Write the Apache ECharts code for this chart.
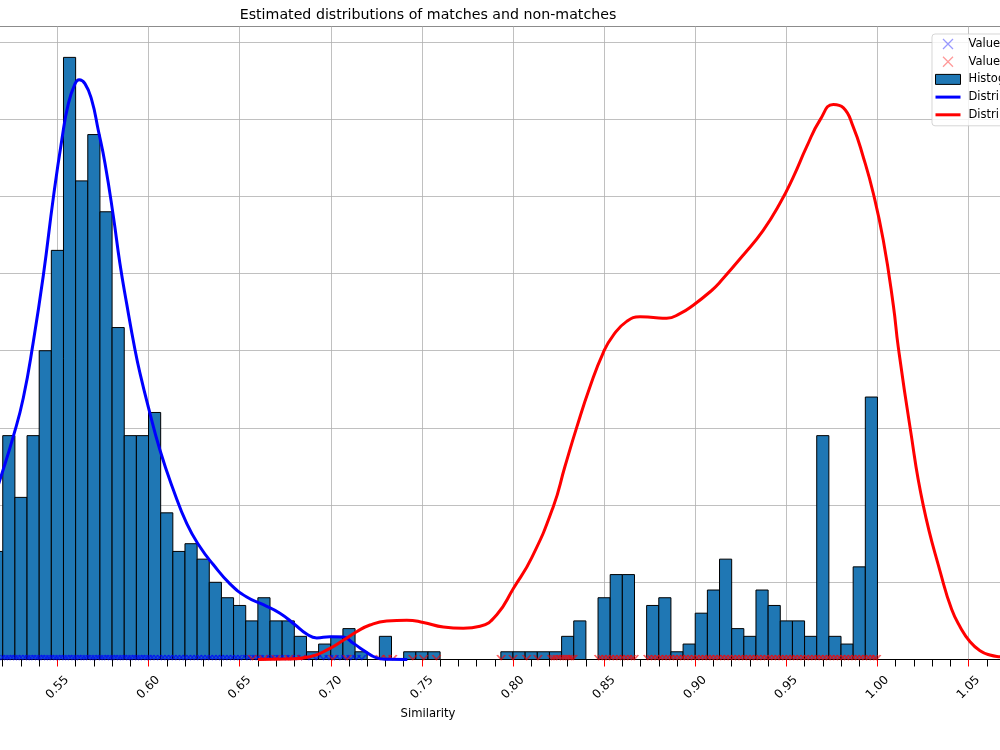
<!DOCTYPE html>
<html>
<head>
<meta charset="utf-8">
<script src="https://cdn.jsdelivr.net/npm/echarts@6/dist/echarts.min.js"></script>
<style>
html, body { margin: 0; padding: 0; width: 1000px; height: 750px; overflow: hidden; background: #fff; }
#main { position: absolute; left: -60px; top: 0; width: 1140px; height: 750px; }
</style>
</head>
<body>
<div id="main"></div>
<script>
// histogram: bins of width 1/150, first visible bin starts at 0.51333
var binStart = 0.5 + 2 / 150;
var binWidth = 1 / 150;
var binCounts = [14, 29, 21, 29, 40, 53, 78, 62, 68, 58, 43, 29, 29, 32, 19, 14, 15, 13, 10, 8,
	7, 5, 8, 5, 5, 3, 1, 2, 3, 4, 1, 0, 3, 0, 1, 1, 1, 0, 0, 0,
	0, 0, 1, 1, 1, 1, 1, 3, 5, 0, 8, 11, 11, 0, 7, 8, 1, 2, 6, 9,
	13, 4, 3, 9, 7, 5, 5, 3, 29, 3, 2, 12, 34];

// estimated distribution of non-matches (blue)
var kdeBlueX = [0.514, 0.5185, 0.5258, 0.5313, 0.5368, 0.5423, 0.5478, 0.5524, 0.556, 0.5597,
	0.5619, 0.5651, 0.5688, 0.5724, 0.5761, 0.5807, 0.5843, 0.588, 0.5926, 0.5953,
	0.5999, 0.6063, 0.6136, 0.621, 0.6282, 0.6355, 0.6447, 0.6539, 0.663, 0.6721,
	0.6804, 0.6868, 0.6923, 0.6996, 0.7069, 0.7124, 0.7179, 0.7252, 0.73, 0.742];
var kdeBlueY = [20, 23.3, 28.9, 33.9, 41.2, 49.8, 59.9, 67.3, 72.0, 74.6,
	75.1, 74.6, 72.5, 68.6, 64.3, 57.4, 51.3, 46.1, 40.1, 37.1,
	32.7, 27.1, 22.0, 17.6, 14.6, 12.3, 9.8, 8.1, 7.1, 6.0,
	4.5, 3.3, 2.8, 2.95, 2.9, 2.1, 1.2, 0.2, 0.02, 0];

// estimated distribution of matches (red)
var kdeRedX = [0.66, 0.6758, 0.6886, 0.6996, 0.7069, 0.7142, 0.7215, 0.7307, 0.7417, 0.7508,
	0.7618, 0.7727, 0.7819, 0.7911, 0.8002, 0.8103, 0.8221, 0.8285, 0.835, 0.8422,
	0.8496, 0.855, 0.8624, 0.8697, 0.877, 0.8843, 0.8916, 0.8989, 0.909, 0.9136,
	0.9264, 0.9373, 0.9465, 0.9538, 0.9611, 0.9685, 0.9758, 0.9812, 0.9867, 0.9922,
	0.9977, 1.0032, 1.0087, 1.0114, 1.0178, 1.0251, 1.0352, 1.0407, 1.0453, 1.0508,
	1.0563, 1.0617, 1.0672, 1.08];
var kdeRedY = [0, 0.05, 0.36, 1.45, 2.5, 3.6, 4.47, 5.0, 5.1, 4.8,
	4.2, 4.04, 4.3, 5.8, 9.2, 13.2, 19.8, 25.0, 30.1, 35.3,
	39.8, 42.0, 43.8, 44.4, 44.3, 44.2, 44.8, 45.9, 47.8, 48.9,
	52.4, 55.6, 59.1, 62.5, 66.4, 69.9, 71.9, 71.5, 69.0, 65.1,
	60.4, 54.3, 45.9, 40.5, 30.2, 20.0, 10.7, 6.5, 4.25, 2.3,
	1.14, 0.58, 0.36, 0.1];

// rug values (x markers at y = 0)
var valuesNonMatch = [0.519, 0.521, 0.5225, 0.524, 0.526, 0.5275, 0.529, 0.531, 0.533, 0.5345,
	0.536, 0.538, 0.5395, 0.541, 0.543, 0.5445, 0.546, 0.548, 0.5495, 0.551,
	0.553, 0.5545, 0.556, 0.558, 0.5595, 0.561, 0.563, 0.5645, 0.566, 0.568,
	0.5695, 0.571, 0.573, 0.5745, 0.576, 0.578, 0.5795, 0.581, 0.583, 0.5845,
	0.586, 0.588, 0.5895, 0.591, 0.593, 0.5945, 0.596, 0.598, 0.5995, 0.601,
	0.603, 0.605, 0.607, 0.609, 0.611, 0.613, 0.615, 0.617, 0.619, 0.621,
	0.623, 0.625, 0.627, 0.629, 0.631, 0.633, 0.635, 0.637, 0.639, 0.641,
	0.643, 0.645, 0.647, 0.649, 0.651, 0.654, 0.656, 0.659, 0.661, 0.664,
	0.667, 0.669, 0.672, 0.675, 0.678, 0.681, 0.684, 0.688, 0.692, 0.696,
	0.699, 0.702, 0.705, 0.708, 0.711, 0.714, 0.717];
var valuesMatch = [0.657, 0.663, 0.670, 0.677, 0.684, 0.701, 0.709, 0.727, 0.731, 0.734,
	0.745, 0.751, 0.758, 0.7935, 0.800, 0.8075, 0.8137, 0.8212, 0.8225, 0.824,
	0.826, 0.8275, 0.829, 0.8305, 0.832, 0.833, 0.847, 0.849, 0.851, 0.853,
	0.855, 0.857, 0.859, 0.861, 0.863, 0.865, 0.8665, 0.874, 0.876, 0.878,
	0.880, 0.882, 0.884, 0.886, 0.888, 0.890, 0.892, 0.894, 0.896, 0.898,
	0.900, 0.902, 0.904, 0.906, 0.908, 0.910, 0.912, 0.914, 0.916, 0.918,
	0.920, 0.922, 0.924, 0.926, 0.928, 0.930, 0.932, 0.934, 0.936, 0.938,
	0.940, 0.942, 0.944, 0.946, 0.948, 0.950, 0.952, 0.954, 0.956, 0.958,
	0.960, 0.962, 0.964, 0.966, 0.968, 0.970, 0.972, 0.974, 0.976, 0.978,
	0.980, 0.982, 0.984, 0.986, 0.988, 0.990, 0.992, 0.994, 0.996, 0.998, 0.9995];

var legendNames = ['Values of non-matches', 'Values of matches', 'Histogram',
	'Distribution of non-matches', 'Distribution of matches'];

var font = 'DejaVu Sans';

function zip(xs, ys) {
	var out = [];
	for (var i = 0; i < xs.length; i++) out.push([xs[i], ys[i]]);
	return out;
}

var histData = [];
for (var i = 0; i < binCounts.length; i++) {
	if (binCounts[i] > 0) {
		var x0 = binStart + i * binWidth;
		histData.push([x0, x0 + binWidth, binCounts[i]]);
	}
}

function rug(vals) {
	return vals.map(function (v) { return [v, 0]; });
}

var xIcon = 'path://M0,0L10,10M10,0L0,10';
var vMark = 'path://M0,0L5,5L10,0';   // upper half of an x clipped by the axis
var lineIcon = 'path://M0,0H25V3H0Z';

var option = {
	animation: false,
	backgroundColor: '#fff',
	graphic: [{
		type: 'text', x: 488, y: 15,
		style: { text: 'Estimated distributions of matches and non-matches', font: '14.2px "DejaVu Sans"',
			fill: '#000', align: 'center', verticalAlign: 'middle', textAlign: 'center', textVerticalAlign: 'middle' }
	}, {
		type: 'text', x: 488, y: 714,
		style: { text: 'Similarity', font: '11.6px "DejaVu Sans"',
			fill: '#000', align: 'center', verticalAlign: 'middle', textAlign: 'center', textVerticalAlign: 'middle' }
	}],
	legend: {
		orient: 'vertical',
		left: 992,
		top: 34,
		itemWidth: 25,
		itemHeight: 10,
		itemGap: 3.7,
		padding: [3, 4, 4, 3],
		backgroundColor: 'rgba(255,255,255,0.8)',
		borderColor: 'rgba(204,204,204,0.8)',
		borderWidth: 1,
		borderRadius: 3,
		textStyle: { fontFamily: font, fontSize: 11.5, color: '#000', lineHeight: 14, padding: [0, 0, 0, 3] },
		data: [
			{ name: legendNames[0], icon: xIcon, itemStyle: { color: 'transparent', borderColor: 'rgba(0,0,255,0.5)', borderWidth: 1.3 } },
			{ name: legendNames[1], icon: xIcon, itemStyle: { color: 'transparent', borderColor: 'rgba(255,0,0,0.5)', borderWidth: 1.3 } },
			{ name: legendNames[2], icon: 'rect', itemStyle: { color: '#1f77b4', borderColor: '#000', borderWidth: 1 } },
			{ name: legendNames[3], icon: lineIcon, itemStyle: { color: '#0000ff', borderWidth: 0 } },
			{ name: legendNames[4], icon: lineIcon, itemStyle: { color: '#ff0000', borderWidth: 0 } }
		]
	},
	grid: {
		left: 26.3,
		top: 26.5,
		width: 1093.4,
		height: 633,
		show: true,
		borderColor: '#000',
		borderWidth: 1,
		backgroundColor: 'transparent'
	},
	xAxis: {
		type: 'value',
		min: 0.5,
		max: 1.1,
		interval: 0.05,
		axisLine: { lineStyle: { color: '#000', width: 1 } },
		axisTick: { show: true, length: 7, lineStyle: { color: '#ff0000', width: 1 } },
		minorTick: { show: true, splitNumber: 5, length: 7, lineStyle: { color: '#000', width: 1 } },
		splitLine: { show: true, lineStyle: { color: '#b0b0b0', width: 0.8 } },
		axisLabel: {
			rotate: 45,
			margin: 28,
			align: 'center',
			verticalAlign: 'middle',
			fontFamily: font,
			fontSize: 12,
			color: '#000',
			formatter: function (v) { return v.toFixed(2); }
		}
	},
	yAxis: {
		type: 'value',
		min: 0,
		max: 82,
		interval: 10,
		axisLine: { show: false },
		axisTick: { show: false },
		axisLabel: { show: false },
		splitLine: { show: true, lineStyle: { color: '#b0b0b0', width: 0.8 } }
	},
	series: [{
		name: legendNames[2],
		type: 'custom',
		z: 1,
		itemStyle: { color: '#1f77b4' },
		encode: { x: [0, 1], y: 2 },
		renderItem: function (params, api) {
			var p0 = api.coord([api.value(0), api.value(2)]);
			var p1 = api.coord([api.value(1), 0]);
			return {
				type: 'rect',
				shape: { x: p0[0], y: p0[1], width: p1[0] - p0[0], height: p1[1] - p0[1] },
				style: { fill: '#1f77b4', stroke: '#000', lineWidth: 1 }
			};
		},
		data: histData
	}, {
		name: legendNames[0],
		type: 'scatter',
		z: 2,
		symbol: vMark,
		symbolSize: [8, 4.5],
		symbolOffset: [0, -2.25],
		itemStyle: { color: 'transparent', borderColor: 'rgba(0,0,255,0.7)', borderWidth: 1.5 },
		data: rug(valuesNonMatch)
	}, {
		name: legendNames[1],
		type: 'scatter',
		z: 2,
		symbol: vMark,
		symbolSize: [8, 4.5],
		symbolOffset: [0, -2.25],
		itemStyle: { color: 'transparent', borderColor: 'rgba(255,0,0,0.75)', borderWidth: 1.5 },
		data: rug(valuesMatch)
	}, {
		name: legendNames[3],
		type: 'line',
		z: 3,
		smooth: 0.5,
		showSymbol: false,
		symbol: 'none',
		itemStyle: { color: '#0000ff' },
		lineStyle: { color: '#0000ff', width: 3 },
		data: zip(kdeBlueX, kdeBlueY)
	}, {
		name: legendNames[4],
		type: 'line',
		z: 4,
		smooth: 0.5,
		showSymbol: false,
		symbol: 'none',
		itemStyle: { color: '#ff0000' },
		lineStyle: { color: '#ff0000', width: 3 },
		data: zip(kdeRedX, kdeRedY)
	}]
};

var chart = echarts.init(document.getElementById('main'), null, { renderer: 'canvas' });
chart.setOption(option);
</script>
</body>
</html>
